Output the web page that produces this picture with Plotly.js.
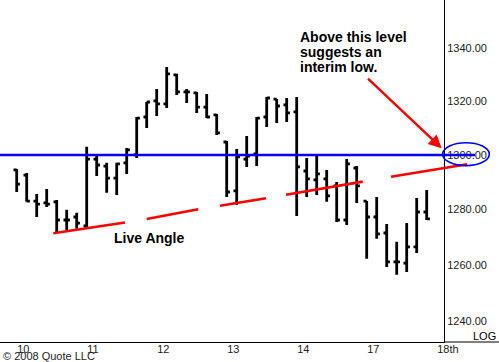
<!DOCTYPE html>
<html>
<head>
<meta charset="utf-8">
<script src="https://cdn.plot.ly/plotly-3.0.1.min.js"></script>
<style>html,body{margin:0;padding:0;background:#fff;}#chart{width:499px;height:362px;}</style>
</head>
<body>
<div id="chart"></div>
<script>
// Hourly bars: 7 bars per trading day
const dayLabels = ['10', '11', '12', '13', '14', '17', '18th'];
const barsPerDay = 7;

const openP = [1294.5, 1292.6, 1283.1, 1282.4, 1282.8, 1276.2, 1277.3,
  1274.1, 1298.5, 1295.9, 1291.5, 1297.1, 1300.0, 1314.1,
  1320.1, 1319.0, 1329.9, 1323.5, 1323.1, 1317.8, 1314.9,
  1304.8, 1286.8, 1298.5, 1300.4, 1314.1, 1320.8, 1318.6,
  1316.0, 1294.1, 1290.8, 1291.2, 1288.6, 1276.2, 1295.2,
  1283.1, 1277.3, 1271.5, 1261.1, 1260.7, 1266.5, 1279.1];
const highP = [1294.8, 1293.4, 1285.7, 1287.5, 1283.5, 1279.9, 1278.8,
  1303.0, 1299.6, 1297.1, 1297.1, 1302.6, 1314.1, 1319.7,
  1324.6, 1332.9, 1330.3, 1324.6, 1323.5, 1322.7, 1315.2,
  1305.2, 1302.2, 1307.0, 1314.1, 1321.6, 1320.8, 1321.2,
  1321.6, 1298.9, 1299.6, 1294.5, 1290.1, 1298.5, 1295.9,
  1283.1, 1284.6, 1274.8, 1268.3, 1275.1, 1284.2, 1287.1];
const lowP = [1286.4, 1282.8, 1277.3, 1280.9, 1271.9, 1272.6, 1273.0,
  1273.0, 1292.3, 1286.1, 1285.3, 1293.0, 1298.9, 1310.0,
  1314.5, 1317.5, 1322.3, 1319.3, 1315.6, 1313.7, 1307.4,
  1284.6, 1281.7, 1295.6, 1295.9, 1310.4, 1311.9, 1312.2,
  1277.7, 1284.6, 1285.3, 1282.8, 1275.5, 1274.4, 1282.4,
  1262.2, 1269.4, 1259.3, 1256.5, 1257.5, 1264.3, 1276.2];
const closeP = [1289.3, 1283.1, 1282.0, 1282.0, 1276.2, 1276.2, 1275.1,
  1298.5, 1296.3, 1291.5, 1296.7, 1301.9, 1313.7, 1319.7,
  1319.0, 1330.3, 1323.5, 1323.5, 1317.8, 1314.1, 1308.2,
  1286.4, 1299.3, 1299.6, 1313.7, 1321.2, 1318.2, 1315.6,
  1295.6, 1291.2, 1293.0, 1285.0, 1276.2, 1296.7, 1288.6,
  1277.3, 1271.2, 1261.1, 1261.1, 1266.5, 1279.1, 1276.6];

const priceTicks = [1240, 1260, 1280, 1300, 1320, 1340];
const priceTickText = ['1240.00', '1260.00', '1280.00', '1300.00', '1320.00', '1340.00'];
const levelPrice = 1300;

// "Live Angle" trend line pieces: [barIndex0, price0, barIndex1, price1]
const trendPieces = [
  [3.66, 1271.4, 10.83, 1275.3],
  [13.0, 1276.6, 18.16, 1280.1],
  [20.33, 1281.4, 24.93, 1284.1],
  [26.93, 1285.4, 34.6, 1290.2],
  [37.43, 1292.0, 45.06, 1296.6]
];

const barIdx = openP.map((_, i) => i);
const dayStarts = dayLabels.map((_, i) => i * barsPerDay);

const xRange = [-1.67, 42.73];
const yRange = [3.09087, 3.13306];
const toPaperX = v => (v - xRange[0]) / (xRange[1] - xRange[0]);
const plotW = 444, plotH = 342;
const pxX = p => p / plotW;
const pxY = p => 1 - p / plotH;

const FONT = 'Liberation Sans, Arial, sans-serif';

const trace = {
  type: 'ohlc',
  x: barIdx,
  open: openP, high: highP, low: lowP, close: closeP,
  increasing: {line: {color: '#000', width: 2.8}},
  decreasing: {line: {color: '#000', width: 2.8}},
  tickwidth: 0.32,
  hoverinfo: 'skip',
  showlegend: false
};

const shapes = [];
shapes.push({type: 'line', xref: 'paper', yref: 'y', x0: 0, x1: pxX(475), y0: levelPrice, y1: levelPrice,
  line: {color: '#0000ff', width: 2.5}, layer: 'above'});
trendPieces.forEach(s => shapes.push({type: 'line', xref: 'paper', yref: 'y',
  x0: toPaperX(s[0]), y0: s[1], x1: toPaperX(s[2]), y1: s[3],
  line: {color: '#ff0000', width: 2.6}, layer: 'above'}));
shapes.push({type: 'circle', xref: 'paper', yref: 'y', x0: pxX(442.7), x1: pxX(489.3), y0: 1296.05, y1: 1304.54,
  line: {color: '#0000ff', width: 1.6}, layer: 'above'});
shapes.push({type: 'line', xref: 'paper', yref: 'paper', x0: 1, x1: 1.2, y0: 0, y1: 0,
  line: {color: '#000', width: 1}, layer: 'above'});

const bold = {family: FONT, size: 14, color: '#000'};
const annotations = [
  {text: '<b>Above this level</b>', xref: 'paper', yref: 'paper', x: pxX(298), y: pxY(36.9), xanchor: 'left', yanchor: 'middle', showarrow: false, font: bold},
  {text: '<b>suggests an</b>', xref: 'paper', yref: 'paper', x: pxX(298), y: pxY(51.9), xanchor: 'left', yanchor: 'middle', showarrow: false, font: bold},
  {text: '<b>interim low.</b>', xref: 'paper', yref: 'paper', x: pxX(298), y: pxY(66.9), xanchor: 'left', yanchor: 'middle', showarrow: false, font: bold},
  {text: '<b>Live Angle</b>', xref: 'paper', yref: 'paper', x: pxX(149), y: pxY(238.5), xanchor: 'center', yanchor: 'middle', showarrow: false, font: bold},
  {text: 'LOG', xref: 'paper', yref: 'paper', x: pxX(498.5), y: pxY(335.8), xanchor: 'right', yanchor: 'middle', showarrow: false, font: {family: FONT, size: 11, color: '#000'}},
  {text: '© 2008 Quote LLC', xref: 'paper', yref: 'paper', x: pxX(0.5), y: pxY(356), xanchor: 'left', yanchor: 'middle', showarrow: false, font: {family: FONT, size: 11, color: '#222'}},
  {text: ' ', xref: 'paper', yref: 'paper', x: pxX(441.7), y: pxY(148.3), showarrow: true, axref: 'pixel', ayref: 'pixel',
    ax: -75.7, ay: -71.6, arrowcolor: '#ff0000', arrowwidth: 2.4, arrowhead: 2, arrowsize: 1.1, standoff: 0, font: {size: 2}}
];

const layout = {
  width: 499, height: 362, autosize: false,
  margin: {l: 0, r: 55, t: 0, b: 20, pad: 0},
  paper_bgcolor: '#fff', plot_bgcolor: '#fff',
  showlegend: false,
  font: {family: FONT, size: 11, color: '#222'},
  xaxis: {
    range: xRange, showgrid: false, zeroline: false,
    showline: true, linecolor: '#000', linewidth: 1,
    tickvals: dayStarts, ticktext: dayLabels, ticks: '',
    ticklabelposition: 'outside right',
    ticklabelstandoff: -3,
    tickfont: {family: FONT, size: 11, color: '#222'},
    rangeslider: {visible: false}, fixedrange: true
  },
  yaxis: {
    type: 'log', range: yRange, side: 'right',
    showgrid: false, zeroline: false,
    showline: true, linecolor: '#000', linewidth: 1,
    tickvals: priceTicks, ticktext: priceTickText, ticks: '',
    tickfont: {family: FONT, size: 11, color: '#222'},
    fixedrange: true
  },
  shapes: shapes,
  annotations: annotations
};

Plotly.newPlot('chart', [trace], layout, {staticPlot: true, displayModeBar: false});
</script>
</body>
</html>
